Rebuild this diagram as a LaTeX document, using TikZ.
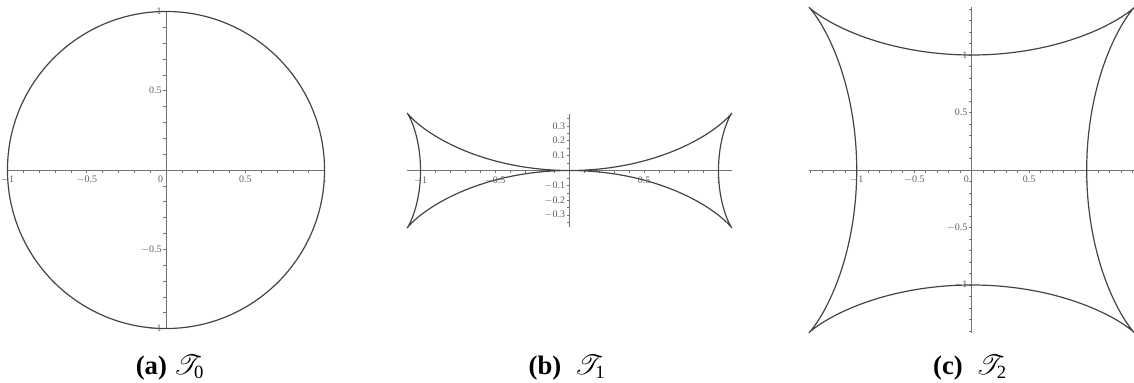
\documentclass[tikz,border=0pt]{standalone}
\usepackage{fontspec}
\setmainfont{Liberation Serif}
\usepackage{mathrsfs}
\definecolor{PlotGray}{RGB}{68,68,68}
\definecolor{AxisGray}{RGB}{115,115,115}
\definecolor{LabelGray}{RGB}{95,95,95}
\usepackage{tikz}

\begin{document}
\begin{tikzpicture}[
    x=0.75pt, y=0.75pt,
    curve/.style={draw=PlotGray, line width=0.9pt, line join=round},
    axisline/.style={draw=AxisGray, line width=0.5pt},
    tickmark/.style={draw=AxisGray, line width=0.4pt},
    xlbl/.style={font=\fontsize{7.5}{8}\selectfont, text=LabelGray, inner sep=1pt, anchor=north, yshift=-3.5pt},
    ylbl/.style={font=\fontsize{7.5}{8}\selectfont, text=LabelGray, inner sep=1pt, anchor=east, xshift=-2pt},
    capt/.style={font=\fontsize{20}{24}\selectfont, anchor=base}
]
    \useasboundingbox (0,0) rectangle (1134,382);

    \begin{scope}[shift={(166,212)}, x=118.9pt, y=118.9pt]
        \draw[axisline] (-1,0) -- (1,0);
        \draw[axisline] (0,-1) -- (0,1);
        \foreach \i in {-10,...,10} {
            \draw[tickmark] (\i/10,0) -- ++(0,-2pt);
            \draw[tickmark] (0,\i/10) -- ++(-2pt,0);
        }
        \draw[curve] (0,0) circle[radius=1];
        \foreach \v/\t [count=\k] in {-1/$-$1, -0.5/$-$0.5, 0.5/0.5, 1/1}
            \node[xlbl] (ax\k) at (\v,0) {\t};
        \foreach \v/\t [count=\k] in {-1/$-$1, -0.5/$-$0.5, 0.5/0.5, 1/1}
            \node[ylbl] (ay\k) at (0,\v) {\t};
        \node[xlbl, anchor=north east, xshift=-1pt] (azero) at (0,0) {0};
    \end{scope}

    \begin{scope}[shift={(569.5,211.5)}, x=111.75pt, y=111.75pt]
        \draw[axisline] (-1.089,0) -- (1.089,0);
        \draw[axisline] (0,-0.38) -- (0,0.38);
        \foreach \i in {-10,...,10}
            \draw[tickmark] (\i/10,0) -- ++(0,-2pt);
        \foreach \i in {-7,...,7}
            \draw[tickmark] (0,\i/20) -- ++(-2pt,0);
        \draw[curve] plot[domain=0:360, samples=721, variable=\t]
            ({cos(\t)*(1+sin(\t)*sin(\t))}, {cos(\t)*cos(\t)*sin(\t)}) -- cycle;
        \foreach \v/\t [count=\k] in {-1/$-$1, -0.5/$-$0.5, 0.5/0.5, 1/1}
            \node[xlbl] (bx\k) at (\v,0) {\t};
        \foreach \v/\t [count=\k] in {0.3/0.3, 0.2/0.2, 0.1/0.1, -0.1/$-$0.1, -0.2/$-$0.2, -0.3/$-$0.3}
            \node[ylbl] (by\k) at (0,\v) {\t};
    \end{scope}

    \begin{scope}[shift={(971.7,212)}, x=86.25pt, y=86.25pt]
        \draw[axisline] (-1.414,0) -- (1.414,0);
        \draw[axisline] (0,-1.414) -- (0,1.414);
        \foreach \i in {-14,...,14} {
            \draw[tickmark] (\i/10,0) -- ++(0,-2pt);
            \draw[tickmark] (0,\i/10) -- ++(-2pt,0);
        }
        \draw[curve] plot[domain=0:360, samples=721, variable=\t]
            ({cos(2*\t)*cos(\t)+2*sin(2*\t)*sin(\t)}, {cos(2*\t)*sin(\t)-2*sin(2*\t)*cos(\t)}) -- cycle;
        \foreach \v/\t [count=\k] in {-1/$-$1, -0.5/$-$0.5, 0.5/0.5, 1/1}
            \node[xlbl] (cx\k) at (\v,0) {\t};
        \foreach \v/\t [count=\k] in {-1/$-$1, -0.5/$-$0.5, 0.5/0.5, 1/1}
            \node[ylbl] (cy\k) at (0,\v) {\t};
        \node[xlbl, anchor=north east, xshift=-1pt] (czero) at (0,0) {0};
    \end{scope}

    \node[capt] (capA) at (170,8) {\textbf{(a)} $\mathscr{T}_{\mathrm{0}}$};
    \node[capt] (capB) at (567,8) {\textbf{(b)}\ \ $\mathscr{T}_{\mathrm{1}}$};
    \node[capt] (capC) at (970,8) {\textbf{(c)}\ \ $\mathscr{T}_{\mathrm{2}}$};
\end{tikzpicture}
\end{document}
